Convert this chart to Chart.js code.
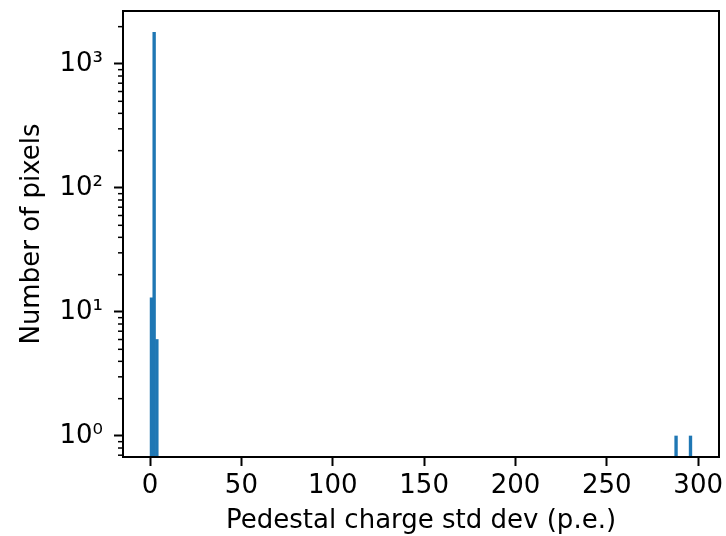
<!DOCTYPE html>
<html>
<head>
<meta charset="utf-8">
<script src="https://cdn.jsdelivr.net/npm/chart.js@4"></script>
<style>
  body { margin: 0; background: white; }
  #wrap { width: 726px; height: 536px; }
</style>
</head>
<body>
<div id="wrap"><canvas id="histChart"></canvas></div>
<script>
// histogram bins (centres, p.e.) and counts
const binCentres = [0.77, 2.25, 3.74, 287.9, 295.8];
const binCounts = [13, 1800, 6, 1, 1];
const xTicks = [0, 50, 100, 150, 200, 250, 300];
const yMajor = [1, 10, 100, 1000];
const yLabels = ['10\u2070', '10\u00b9', '10\u00b2', '10\u00b3'];

const ctx = document.getElementById('histChart').getContext('2d');
const tickFont = { family: 'DejaVu Sans', size: 26 };

// minor log ticks + the top/right spines, matplotlib style
const framePlugin = {
    id: 'frame',
    afterDraw(chart) {
        const c = chart.ctx;
        const area = chart.chartArea;
        const y = chart.scales.y;
        c.save();
        c.strokeStyle = 'black';
        c.lineWidth = 1.5;
        for (let d = 0.1; d <= 1000; d *= 10) {
            for (let m = 2; m <= 9; m++) {
                const v = d * m;
                if (v < y.min || v > y.max) continue;
                const py = y.getPixelForValue(v);
                c.beginPath();
                c.moveTo(area.left - 5, py);
                c.lineTo(area.left, py);
                c.stroke();
            }
        }
        c.lineWidth = 2;
        c.strokeRect(area.left, area.top, area.right - area.left, area.bottom - area.top);
        c.restore();
    }
};

new Chart(ctx, {
    type: 'bar',
    data: {
        datasets: [{
            data: binCentres.map((x, i) => ({ x: x, y: binCounts[i] })),
            backgroundColor: '#1f77b4',
            borderWidth: 0,
            barPercentage: 1.0,
            categoryPercentage: 1.0,
            base: 0.1
        }]
    },
    options: {
        responsive: true,
        maintainAspectRatio: false,
        animation: false,
        layout: { padding: { top: 11, right: 7, left: 0, bottom: 0 } },
        plugins: { legend: { display: false }, tooltip: { enabled: false } },
        scales: {
            x: {
                type: 'linear',
                min: -14.8,
                max: 311.4,
                offset: false,
                afterBuildTicks: scale => { scale.ticks = xTicks.map(v => ({ value: v })); },
                afterFit: scale => {
                    scale.height = 79;
                    scale.paddingLeft = 0;
                    scale.paddingRight = 0;
                },
                grid: { offset: false, drawOnChartArea: false, tickLength: 9, tickWidth: 2, tickColor: 'black' },
                border: { color: 'black', width: 2 },
                ticks: {
                    color: 'black',
                    padding: 5,
                    maxRotation: 0,
                    font: tickFont
                },
                title: {
                    display: true,
                    text: 'Pedestal charge std dev (p.e.)',
                    color: 'black',
                    padding: { top: 0, bottom: -1 },
                    font: tickFont
                }
            },
            y: {
                type: 'logarithmic',
                min: 0.677,
                max: 2675,
                afterBuildTicks: scale => { scale.ticks = yMajor.map(v => ({ value: v })); },
                afterFit: scale => {
                    scale.width = 123;
                    scale.paddingTop = 0;
                    scale.paddingBottom = 0;
                },
                grid: { offset: false, drawOnChartArea: false, tickLength: 9, tickWidth: 2, tickColor: 'black' },
                border: { color: 'black', width: 2 },
                ticks: {
                    color: 'black',
                    padding: 11,
                    font: tickFont,
                    callback: v => yLabels[yMajor.indexOf(v)]
                },
                title: {
                    display: true,
                    text: 'Number of pixels',
                    color: 'black',
                    padding: { top: 17, bottom: 0 },
                    font: tickFont
                }
            }
        }
    },
    plugins: [framePlugin]
});
</script>
</body>
</html>
